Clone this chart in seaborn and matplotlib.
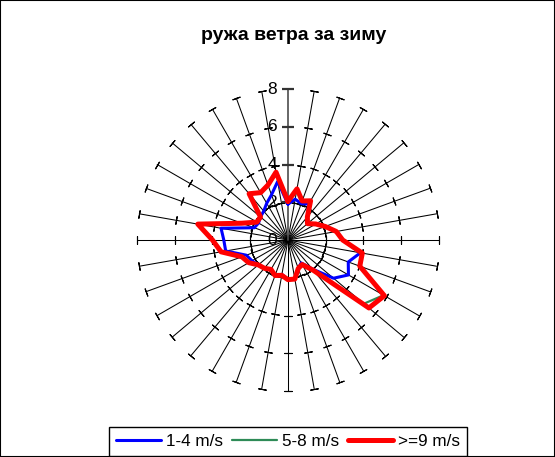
import matplotlib
matplotlib.use("Agg")
import matplotlib.pyplot as plt
import numpy as np
import seaborn as sns
from matplotlib.patches import Rectangle

# wind directions, every 10 degrees clockwise from north
directions = np.arange(0, 360, 10)

# frequencies, one value per direction
speed_1_4 = [1.9, 2.2, 2.05, 2.2, 1.6, 1.35, 1.7, 2.1, 2.6, 2.9, 3.9, 3.4,
             3.7, 3.15, 2.0, 1.4, 1.6, 2.1, 2.1, 1.85, 2.0, 1.8, 1.95, 2.05,
             2.2, 2.35, 3.35, 3.4, 3.6, 1.9, 1.8, 1.9, 2.0, 2.25, 2.55, 3.15]
speed_5_8 = [2.05, 2.75, 2.2, 2.4, 1.6, 1.35, 1.7, 2.1, 2.6, 2.9, 4.0, 4.05,
             5.85, 5.25, 2.1, 1.5, 1.6, 2.1, 2.1, 1.9, 2.0, 1.8, 1.95, 2.05,
             2.4, 2.6, 3.6, 4.0, 4.85, 2.6, 1.9, 1.9, 3.2, 2.9, 3.1, 3.65]
speed_9 = [2.05, 2.75, 2.2, 2.4, 1.6, 1.35, 1.7, 2.1, 2.6, 2.9, 4.0, 4.05,
           5.9, 5.6, 2.1, 1.5, 1.6, 2.1, 2.1, 1.9, 2.0, 1.8, 1.95, 2.05,
           2.4, 2.6, 3.6, 4.0, 4.85, 2.6, 1.9, 1.9, 3.2, 2.9, 3.1, 3.65]

series_labels = ["1-4 m/s", "5-8 m/s", ">=9 m/s"]
series_colors = ["#0000ff", "#2e8b57", "#ff0000"]
series_widths = [2.2, 1.6, 3.6]
radial_ticks = [0, 2, 4, 6, 8]

sns.set_style("white")
plt.rcParams["font.family"] = ["Liberation Sans", "DejaVu Sans"]
plt.rcParams["text.color"] = "black"

fig = plt.figure(figsize=(5.55, 4.57), dpi=100)
ax = fig.add_axes([0.2468, 0.1444, 0.5441, 0.6608], projection="polar")
ax.set_theta_zero_location("N")
ax.set_theta_direction(-1)
ax.set_ylim(0, 8)
ax.set_axis_off()

theta = np.deg2rad(directions)

# spokes with cross ticks, like the excel radar axes
for deg, th in zip(directions, theta):
    if deg == 0:
        continue
    ax.plot([th, th], [0, 8], color="black", lw=0.75, clip_on=False, zorder=1)
    ax.plot([th] * 4, radial_ticks[1:], ls="none", marker=(2, 2, 90 - deg),
            ms=6, mew=0.8, color="black", clip_on=False, zorder=1)

# value axis (north)
ax.plot([0, 0], [0, 8], color="0.3", lw=1.2, clip_on=False, zorder=1)
ax.plot([0] * 4, radial_ticks[1:], ls="none", marker="_", ms=8, mew=1.6,
        color="0.2", clip_on=False, zorder=1)
for r in radial_ticks:
    ax.annotate(str(r), xy=(0, r), xytext=(-8, 0), textcoords="offset points",
                ha="right", va="center", fontsize=12.5, color="black", zorder=2)

closed_theta = np.append(theta, theta[0] + 2 * np.pi)
for vals, lab, col, lw in zip([speed_1_4, speed_5_8, speed_9], series_labels,
                              series_colors, series_widths):
    closed_vals = np.append(vals, vals[0])
    sns.lineplot(x=closed_theta, y=closed_vals, ax=ax, sort=False,
                 estimator=None, color=col, lw=lw, label=lab, zorder=3,
                 clip_on=False)

handles, labels = ax.get_legend_handles_labels()
ax.get_legend().remove()
leg = fig.legend(handles, labels, loc="lower center",
                 bbox_to_anchor=(288 / 555, 0.002), ncol=3, frameon=True,
                 fancybox=False, edgecolor="black", framealpha=1,
                 fontsize=12.3, handlelength=2.6, handletextpad=0.3,
                 columnspacing=0.55, borderpad=0.4, borderaxespad=0)
leg.get_frame().set_linewidth(1)
for t in leg.get_texts():
    t.set_color("black")

fig.text(294 / 555, 1 - 35 / 457, "ружа ветра за зиму", ha="center",
         va="center", fontsize=14, fontweight="bold", color="black")

fig.add_artist(Rectangle((0, 0), 1, 1, transform=fig.transFigure, fill=False,
                         edgecolor="black", lw=1.5))

fig.savefig("out.png", dpi=100)
